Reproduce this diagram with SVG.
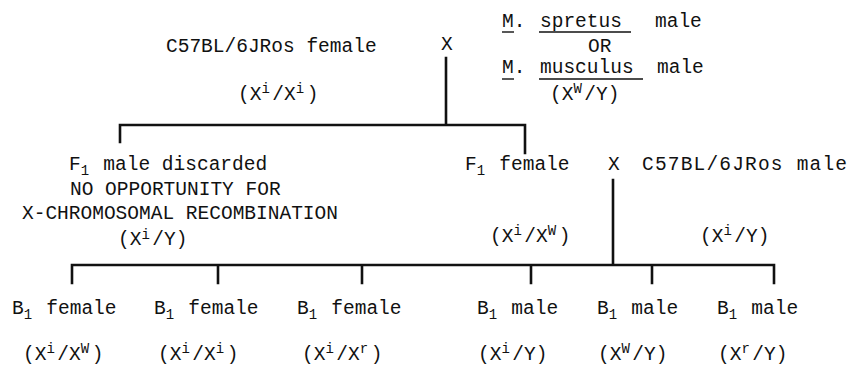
<svg xmlns="http://www.w3.org/2000/svg" width="850" height="365" viewBox="0 0 850 365">
  <style>
    text { font-family: "Liberation Mono", "DejaVu Sans Mono", monospace; font-size: 19.5px; fill: #111; }
    .sup { font-size: 14px; letter-spacing: 2.5px; }
    .sub { font-size: 14px; letter-spacing: 2.5px; }
    .ln { stroke: #111; stroke-width: 2.6; fill: none; stroke-linecap: square; }
    .ul { stroke: #111; stroke-width: 1.4; }
  </style>

  <!-- connectors: crossing brackets -->
  <g id="connectors">
    <path class="ln" d="M446 58 V125 M120 142 V125 H525 V153"/>
    <path class="ln" d="M613 180 V265 M72 283 V265 H774 V283 M218 265 V283 M362 265 V283 M531 265 V283 M652 265 V283"/>
  </g>

  <!-- parental cross -->
  <g id="p-female">
    <text x="166" y="52">C57BL/6JRos female</text>
    <text x="238" y="100">(X<tspan class="sup" dy="-7">i</tspan><tspan dy="7">/X</tspan><tspan class="sup" dy="-7">i</tspan><tspan dy="7">)</tspan></text>
  </g>
  <g id="p-cross">
    <text x="441" y="50">X</text>
  </g>
  <g id="p-male">
    <text x="502" y="27">M.</text>
    <text x="540" y="27">spretus</text>
    <text x="655" y="27">male</text>
    <line class="ul" x1="502" y1="32" x2="514" y2="32"/>
    <line class="ul" x1="539" y1="32" x2="631" y2="32"/>
    <text x="588" y="52">OR</text>
    <text x="502" y="73">M.</text>
    <text x="540" y="73">musculus</text>
    <text x="657" y="73">male</text>
    <line class="ul" x1="502" y1="79" x2="514" y2="79"/>
    <line class="ul" x1="539" y1="79" x2="643" y2="79"/>
    <text x="550" y="100">(X<tspan class="sup" dy="-7">W</tspan><tspan dy="7">/Y)</tspan></text>
  </g>

  <!-- F1 generation -->
  <g id="f1-male">
    <text x="69" y="170">F<tspan class="sub" dy="5">1</tspan><tspan dy="-5"> male discarded</tspan></text>
    <text x="70" y="195">NO OPPORTUNITY FOR</text>
    <text x="22" y="219">X-CHROMOSOMAL RECOMBINATION</text>
    <text x="118" y="245">(X<tspan class="sup" dy="-6">i</tspan><tspan dy="6">/Y)</tspan></text>
  </g>
  <g id="f1-female">
    <text x="465" y="170">F<tspan class="sub" dy="5">1</tspan><tspan dy="-5"> female</tspan></text>
    <text x="490" y="242">(X<tspan class="sup" dy="-7">i</tspan><tspan dy="7">/X</tspan><tspan class="sup" dy="-7">W</tspan><tspan dy="7">)</tspan></text>
  </g>
  <g id="backcross">
    <text x="608" y="170">X</text>
  </g>
  <g id="b6-male">
    <text x="642" y="170" textLength="205">C57BL/6JRos male</text>
    <text x="700" y="242">(X<tspan class="sup" dy="-7">i</tspan><tspan dy="7">/Y)</tspan></text>
  </g>

  <!-- B1 offspring -->
  <g id="b1-female-w">
    <text x="12" y="314">B<tspan class="sub" dy="5">1</tspan><tspan dy="-5"> female</tspan></text>
    <text x="23" y="360">(X<tspan class="sup" dy="-7">i</tspan><tspan dy="7">/X</tspan><tspan class="sup" dy="-7">W</tspan><tspan dy="7">)</tspan></text>
  </g>
  <g id="b1-female-i">
    <text x="154" y="314">B<tspan class="sub" dy="5">1</tspan><tspan dy="-5"> female</tspan></text>
    <text x="158" y="360">(X<tspan class="sup" dy="-7">i</tspan><tspan dy="7">/X</tspan><tspan class="sup" dy="-7">i</tspan><tspan dy="7">)</tspan></text>
  </g>
  <g id="b1-female-r">
    <text x="297" y="314">B<tspan class="sub" dy="5">1</tspan><tspan dy="-5"> female</tspan></text>
    <text x="302" y="360">(X<tspan class="sup" dy="-7">i</tspan><tspan dy="7">/X</tspan><tspan class="sup" dy="-7">r</tspan><tspan dy="7">)</tspan></text>
  </g>
  <g id="b1-male-i">
    <text x="477" y="314">B<tspan class="sub" dy="5">1</tspan><tspan dy="-5"> male</tspan></text>
    <text x="478" y="360">(X<tspan class="sup" dy="-7">i</tspan><tspan dy="7">/Y)</tspan></text>
  </g>
  <g id="b1-male-w">
    <text x="597" y="314">B<tspan class="sub" dy="5">1</tspan><tspan dy="-5"> male</tspan></text>
    <text x="598" y="360">(X<tspan class="sup" dy="-7">W</tspan><tspan dy="7">/Y)</tspan></text>
  </g>
  <g id="b1-male-r">
    <text x="717" y="314">B<tspan class="sub" dy="5">1</tspan><tspan dy="-5"> male</tspan></text>
    <text x="718" y="360">(X<tspan class="sup" dy="-7">r</tspan><tspan dy="7">/Y)</tspan></text>
  </g>
</svg>
